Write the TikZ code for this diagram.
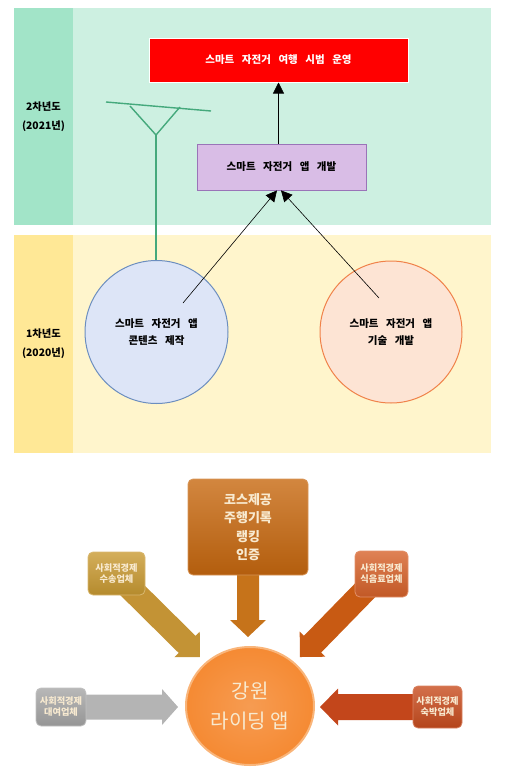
\documentclass[tikz,border=0pt]{standalone}
\usepackage{fontspec}
\setmainfont{Noto Sans CJK KR}
\usetikzlibrary{arrows.meta,calc,shapes.geometric}
\definecolor{gband}{HTML}{CDF0E1}
\definecolor{gcol}{HTML}{A2E4C8}
\definecolor{yband}{HTML}{FFF5CC}
\definecolor{ycol}{HTML}{FFE896}
\definecolor{antc}{HTML}{45A97C}
\definecolor{purf}{HTML}{D9BDE6}
\definecolor{purd}{HTML}{9A74B8}
\definecolor{bluf}{HTML}{DDE5F7}
\definecolor{blud}{HTML}{6C8EBF}
\definecolor{orf}{HTML}{FDE4D4}
\definecolor{ord}{HTML}{F0824A}
\definecolor{pale}{HTML}{F8EAD0}
\definecolor{cA}{HTML}{C7680F}
\definecolor{cAa}{HTML}{C6731A}
\definecolor{cB}{HTML}{C99A32}
\definecolor{cBa}{HTML}{C39335}
\definecolor{cC}{HTML}{D7622A}
\definecolor{cCa}{HTML}{C85A13}
\definecolor{cD}{HTML}{A6A6A6}
\definecolor{cDa}{HTML}{B4B4B4}
\definecolor{cE}{HTML}{C84C1E}
\definecolor{cEa}{HTML}{C3461B}
\definecolor{appf}{HTML}{F58A33}
\definecolor{appd}{HTML}{F9B57A}
\newcommand\blkarrow[7]{% start, angle, length, half shaft, half head, head length, colour
  \begin{scope}[shift={#1}, rotate=#2]
    \fill[#7] (0,-#4) -- ({#3-#6},-#4) -- ({#3-#6},-#5) -- (#3,0) -- ({#3-#6},#5) -- ({#3-#6},#4) -- (0,#4) -- cycle;
  \end{scope}}
\begin{document}
\begin{tikzpicture}[x=1pt,y=-1pt,
  lbl/.style={font={\bfseries\fontsize{10.3}{19}\selectfont}, align=center, text=black},
  boxtxt/.style={font={\bfseries\fontsize{10.5}{17}\selectfont\spaceskip=0.72em\relax}, align=center},
  ar/.style={-{Triangle[length=11pt,width=11pt]}, black, line width=0.6pt},
  card/.style={rounded corners=5pt, draw=#1!70!white, line width=0.8pt, top color=#1!80!white, bottom color=#1!90!black, text=pale, align=center, inner sep=0pt},
  smalltxt/.style={font={\bfseries\fontsize{9.2}{11}\selectfont}}
]
\useasboundingbox (0,0) rectangle (504,779);
% ---------- upper diagram ----------
\fill[gband] (14,8) rectangle (491,225);
\fill[gcol] (14,8) rectangle (73,225);
\fill[yband] (14,235) rectangle (491,453);
\fill[ycol] (14,235) rectangle (73,453);
\node[lbl] (y2) at (43.5,117) {2차년도\\(2021년)};
\node[lbl] (y1) at (43.5,344) {1차년도\\(2020년)};

\node[boxtxt, fill=red, draw=white, line width=1pt, text=white, minimum width=259pt, minimum height=44pt] (red) at (278.5,60) {스마트 자전거 여행 시범 운영};
\node[boxtxt, fill=purf, draw=purd, line width=0.8pt, minimum width=169pt, minimum height=46pt] (pur) at (281.5,167) {스마트 자전거 앱 개발};
\node[boxtxt, circle, fill=bluf, draw=blud, line width=1pt, minimum size=143pt] (blu) at (156.5,332) {스마트 자전거 앱\\콘텐츠 제작};
\node[boxtxt, circle, fill=orf, draw=ord, line width=1pt, minimum size=142pt] (org) at (391,332) {스마트 자전거 앱\\기술 개발};

\draw[ar] (red.south |- pur.north) -- (red.south);
\coordinate (s1) at (183,303);
\coordinate (s2) at (379,298);
\draw[ar] (s1) -- ($(pur.south)+(-4.5,0)$);
\draw[ar] (s2) -- ($(pur.south)+(-0.5,0)$);

% antenna
\coordinate (a1) at (106,102);
\coordinate (a2) at (211,111);
\coordinate (v1) at (130,106);
\coordinate (v2) at (180,107);
\coordinate (vb) at (156,135);
\draw[antc, line width=1.4pt] (a1) -- (a2);
\draw[antc, line width=1.4pt] (v1) -- (vb) -- (v2);
\draw[antc, line width=1.4pt] (vb) -- (vb |- blu.north);

% ---------- lower diagram ----------
\blkarrow{(248,560)}{-90}{77}{11}{18}{17}{cAa}
\blkarrow{(116,574)}{-44.7}{118}{12}{18}{18}{cBa}
\blkarrow{(381,574)}{-134.3}{116}{12}{18}{18}{cCa}
\blkarrow{(61,707)}{0}{117}{12.5}{18}{16}{cDa}
\blkarrow{(437,707)}{180}{117}{13}{18.5}{18}{cEa}

\node[card=cA, minimum width=120pt, minimum height=96pt, font={\bfseries\fontsize{13}{18.5}\selectfont}] (course) at (248,527) {코스제공\\주행기록\\랭킹\\인증};
\node[card=cB, minimum width=57pt, minimum height=43pt, smalltxt] (trans) at (116.5,573.5) {사회적경제\\수송업체};
\node[card=cC, minimum width=53pt, minimum height=46pt, smalltxt] (food) at (381.5,574) {사회적경제\\식음료업체};
\node[card=cD, minimum width=50pt, minimum height=38pt, smalltxt] (rent) at (61,707) {사회적경제\\대여업체};
\node[card=cE, minimum width=49pt, minimum height=42pt, smalltxt] (stay) at (437.5,707) {사회적경제\\숙박업체};

\node[ellipse, minimum width=128pt, minimum height=118pt, inner color=appf!85!white, outer color=appf, draw=appd, line width=2pt, text=pale, align=center, font=\fontsize{20}{30}\selectfont] (app) at (250,706) {강원\\라이딩 앱};
\end{tikzpicture}
\end{document}
